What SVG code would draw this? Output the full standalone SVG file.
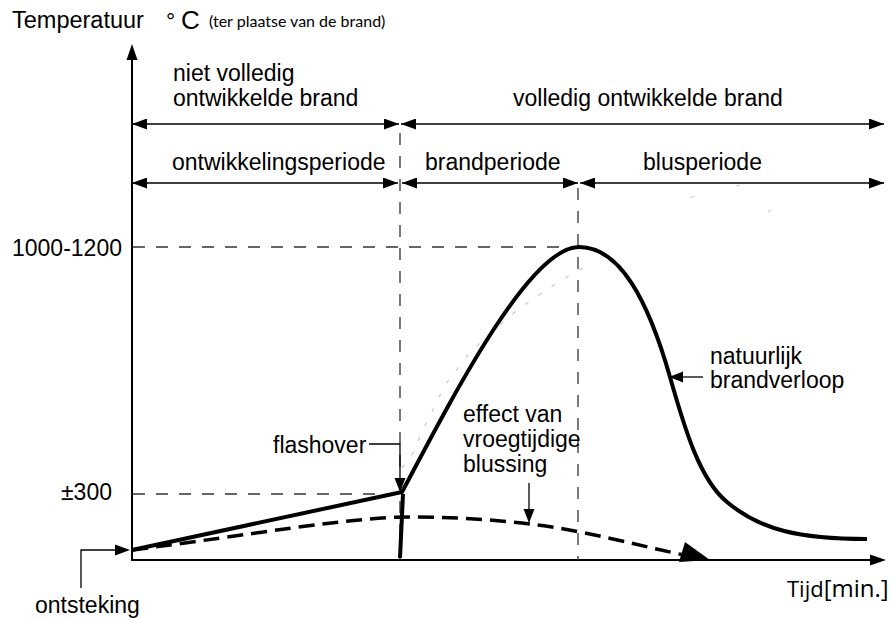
<svg xmlns="http://www.w3.org/2000/svg" width="895" height="619" viewBox="0 0 895 619">
<style>
  text { font-family: "Liberation Sans", Arial, sans-serif; font-size: 23px; fill: #000; }
  .small { font-family: Lato, "Liberation Sans", sans-serif; font-size: 16px; }
  .tijd { font-family: "Open Sans", "Liberation Sans", sans-serif; font-size: 22px; }
  .axis { stroke: #000; stroke-width: 2; fill: none; }
  .span { stroke: #000; stroke-width: 1.5; fill: none; marker-start: url(#arr); marker-end: url(#arr); }
  .guide { stroke: #333; stroke-width: 1.3; fill: none; stroke-dasharray: 12 11; }
  .curve { stroke: #000; stroke-width: 4; fill: none; stroke-linejoin: round; }
  .dcurve { stroke: #000; stroke-width: 3.5; fill: none; stroke-dasharray: 16 8; }
  .lead { stroke: #000; stroke-width: 1.3; fill: none; }
  .head { fill: #000; }
</style>
<defs>
  <marker id="arr" markerUnits="userSpaceOnUse" markerWidth="15" markerHeight="11" refX="15" refY="5.5" orient="auto-start-reverse">
    <path d="M0,0 L15,5.5 L0,11 z" fill="#000"/>
  </marker>
</defs>

<g id="connectors">
  <!-- axes -->
  <line class="axis" x1="132" y1="560" x2="132" y2="58"/>
  <polygon class="head" points="126.5,60 137.5,60 132,44"/>
  <line class="axis" x1="131" y1="560" x2="872" y2="560"/>
  <polygon class="head" points="870,554.5 870,565.5 886,560"/>

  <!-- period spans -->
  <line class="span" x1="132" y1="124" x2="399" y2="124"/>
  <line class="span" x1="401" y1="124" x2="884" y2="124"/>
  <line class="span" x1="132" y1="183" x2="398" y2="183"/>
  <line class="span" x1="402" y1="183" x2="578" y2="183"/>
  <line class="span" x1="580" y1="183" x2="884" y2="183"/>

  <!-- guide lines -->
  <line class="guide" x1="400" y1="133" x2="400" y2="560"/>
  <line class="guide" x1="578" y1="188" x2="578" y2="560"/>
  <line class="guide" x1="133" y1="247" x2="584" y2="247"/>
  <line class="guide" x1="133" y1="494" x2="402" y2="494"/>

  <!-- faint sketch trail -->
  <path d="M402,468 L413,453 L422,432 L445,385 L470,352 L517,310 L558,282 L592,263" stroke="#c8c8c8" stroke-width="1.2" fill="none" stroke-dasharray="4 12"/>
  <path d="M690,198 L694,196 M736,186 L740,185 M768,212 L771,210" stroke="#d0d0d0" stroke-width="1.2" fill="none"/>

  <!-- natural fire curve -->
  <path class="curve" d="M132,550 L402,492 C455,392 530,247 579,247 C620,247 648,300 670,377 C685,430 700,480 727,502 C760,530 800,539 867,539"/>
  <line class="curve" x1="403" y1="494" x2="400" y2="558"/>

  <!-- early extinguishing curve -->
  <path class="dcurve" d="M132,550 C250,535 350,517 410,517 C470,517 530,522 580,532 C620,540 650,548 684,555"/>
  <polygon class="head" points="679,562 685,542 710,560"/>

  <!-- leaders -->
  <polyline class="lead" points="369,444 400,444 400,479"/>
  <polygon class="head" points="394.5,478 405.5,478 400,492"/>
  <polyline class="lead" points="81,588 81,550 116,550"/>
  <polygon class="head" points="115,544.5 115,555.5 130,550"/>
  <line class="lead" x1="529" y1="483" x2="529" y2="510"/>
  <polygon class="head" points="523.5,509 534.5,509 529,523"/>
  <line class="lead" x1="703" y1="377" x2="682" y2="377"/>
  <polygon class="head" points="683,371.5 683,382.5 669,377"/>
</g>

<g id="axis-labels">
  <text x="12" y="28" style="font-size:23.5px">Temperatuur</text>
  <text x="166" y="29">°<tspan x="181" style="font-size:26px">C</tspan></text>
  <text class="small" x="209" y="27">(ter plaatse van de brand)</text>
  <text x="12" y="256">1000-1200</text>
  <text x="61" y="500">±300</text>
  <text class="tijd" x="787" y="597">Tijd<tspan style="font-size:24px">[min.]</tspan></text>
</g>

<g id="phase-labels">
  <text x="173" y="81">niet volledig</text>
  <text x="173" y="106">ontwikkelde brand</text>
  <text x="513" y="106">volledig ontwikkelde brand</text>
  <text x="172" y="170">ontwikkelingsperiode</text>
  <text x="425" y="170">brandperiode</text>
  <text x="643" y="170">blusperiode</text>
</g>

<g id="annotations">
  <text x="273" y="453">flashover</text>
  <text x="463" y="422">effect van</text>
  <text x="463" y="447">vroegtijdige</text>
  <text x="463" y="472">blussing</text>
  <text x="710" y="364">natuurlijk</text>
  <text x="710" y="388">brandverloop</text>
  <text x="35" y="613">ontsteking</text>
</g>
</svg>
